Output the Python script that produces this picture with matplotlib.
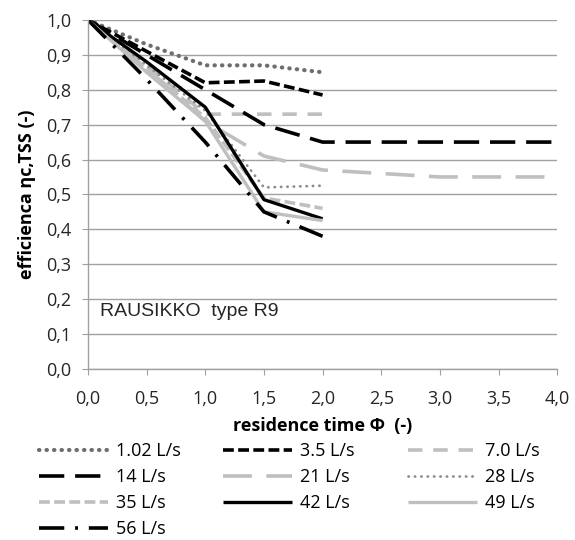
import matplotlib
matplotlib.use("Agg")
import matplotlib.pyplot as plt
from matplotlib.ticker import FuncFormatter

plt.rcParams['font.family'] = ['Open Sans', 'DejaVu Sans']

labels = ["1.02 L/s", "3.5 L/s", "7.0 L/s", "14 L/s", "21 L/s", "28 L/s",
          "35 L/s", "42 L/s", "49 L/s", "56 L/s"]
x_short = [0.0, 0.5, 1.0, 1.5, 2.0]
x_long = [0.0, 0.5, 1.0, 1.5, 2.0, 3.0, 4.0]
y_102 = [1.0, 0.93, 0.87, 0.87, 0.85]
y_35 = [1.0, 0.91, 0.82, 0.825, 0.785]
y_70 = [1.0, 0.87, 0.73, 0.73, 0.73]
y_14 = [1.0, 0.90, 0.80, 0.70, 0.65, 0.65, 0.65]
y_21 = [1.0, 0.86, 0.71, 0.61, 0.57, 0.55, 0.55]
y_28 = [1.0, 0.87, 0.74, 0.52, 0.525]
y_35b = [1.0, 0.86, 0.72, 0.49, 0.46]
y_42 = [1.0, 0.88, 0.75, 0.485, 0.43]
y_49 = [1.0, 0.85, 0.71, 0.45, 0.425]
y_56 = [1.0, 0.83, 0.65, 0.45, 0.38]

DG = "#6e6e6e"
MG = "#8c8c8c"
LG = "#bfbfbf"
K = "#000000"

fig = plt.figure(figsize=(5.75, 5.4), dpi=100)
ax = fig.add_axes([0.153, 0.317, 0.816, 0.646])

series = [
    (x_short, y_102, DG, 3.0, (0, (0.1, 1.7)), 'round'),
    (x_short, y_35, K, 2.6, (0, (3, 1.2)), 'butt'),
    (x_short, y_70, LG, 2.6, (0, (4, 3)), 'butt'),
    (x_long, y_14, K, 2.6, (0, (7, 3)), 'butt'),
    (x_long, y_21, LG, 2.6, (0, (8, 4)), 'butt'),
    (x_short, y_28, MG, 2.0, (0, (0.1, 2.2)), 'round'),
    (x_short, y_35b, LG, 2.6, (0, (3, 1.2)), 'butt'),
    (x_short, y_42, K, 2.4, '-', 'butt'),
    (x_short, y_49, LG, 2.4, '-', 'butt'),
    (x_short, y_56, K, 2.6, (0, (7, 3, 0.8, 3)), 'butt'),
]

handles = []
for (xs, ys, c, lw, ls, cap), lab in zip(series, labels):
    h, = ax.plot(xs, ys, color=c, lw=lw, linestyle=ls, label=lab,
                 dash_capstyle=cap, solid_capstyle='butt')
    handles.append(h)

ax.set_xlim(0, 4.0)
ax.set_ylim(0, 1.0)
ax.set_xticks([0, 0.5, 1.0, 1.5, 2.0, 2.5, 3.0, 3.5, 4.0])
ax.set_yticks([i / 10 for i in range(11)])
fmt = FuncFormatter(lambda v, p: f"{v:.1f}".replace(".", ","))
ax.xaxis.set_major_formatter(fmt)
ax.yaxis.set_major_formatter(fmt)
ax.yaxis.grid(True, color="#a0a0a0", lw=1.0)
ax.set_axisbelow(True)
for s in ["top", "right"]:
    ax.spines[s].set_visible(False)
for s in ["left", "bottom"]:
    ax.spines[s].set_color("#a0a0a0")
    ax.spines[s].set_linewidth(1.0)
ax.tick_params(axis='both', colors="#a0a0a0", labelcolor="#262626",
               labelsize=13, length=4)
ax.tick_params(axis='x', pad=11)
ax.tick_params(axis='y', pad=8)

ax.set_xlabel("residence time Φ  (-)", fontsize=13, fontweight='bold', labelpad=7)
ax.set_ylabel("efficienca ηc,TSS (-)", fontsize=13, fontweight='bold', labelpad=7)
ax.text(0.1, 0.165, "RAUSIKKO  type R9", fontsize=14, color="#262626",
        family=['Liberation Sans', 'DejaVu Sans'], va='center', ha='left')

cols = [[0, 3, 6, 9], [1, 4, 7], [2, 5, 8]]
xs_leg = [39, 223, 408]
for col, xp in zip(cols, xs_leg):
    leg = fig.legend([handles[i] for i in col], [labels[i] for i in col],
                     ncol=1, loc='upper left',
                     bbox_to_anchor=(xp / 575, 1 - 442 / 540),
                     frameon=False, fontsize=13, handlelength=3.8,
                     handletextpad=0.45, labelspacing=0.45,
                     borderpad=0, borderaxespad=0)

fig.savefig("out.png", dpi=100)
